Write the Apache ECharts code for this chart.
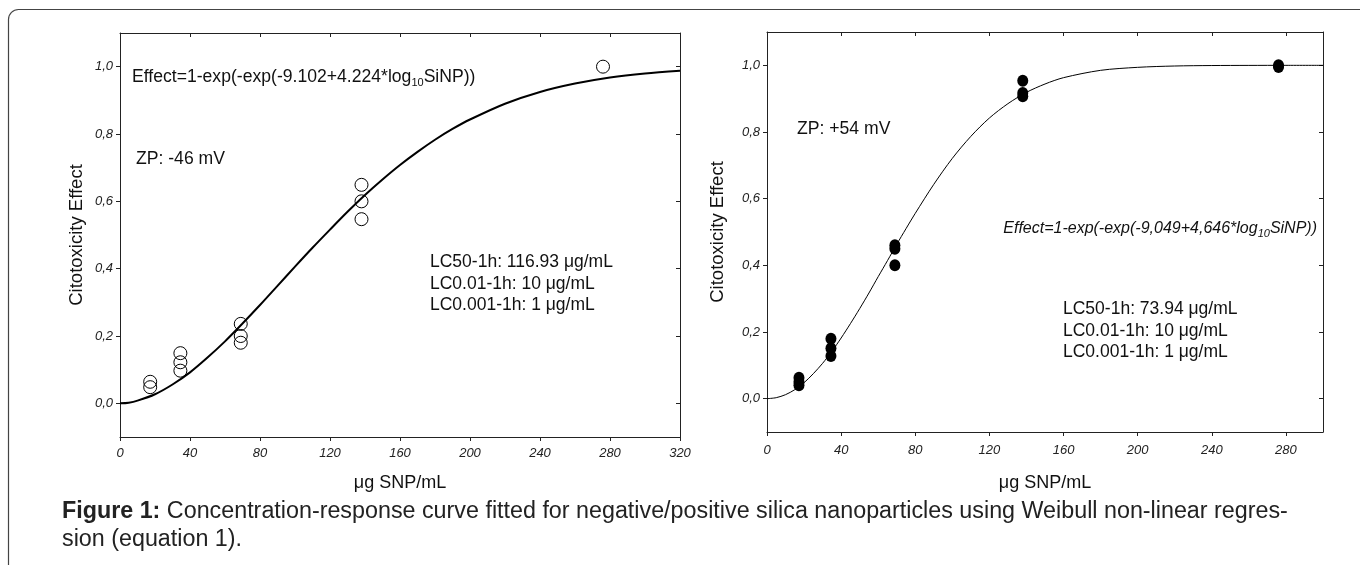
<!DOCTYPE html>
<html><head><meta charset="utf-8">
<script src="https://cdn.jsdelivr.net/npm/echarts@6/dist/echarts.min.js"></script>
<style>html,body{margin:0;padding:0;background:#fff;} #c{width:1360px;height:565px;}</style>
</head><body><div id="c"></div>
<script>
// ---- data ----
const yTicks = [0, 0.2, 0.4, 0.6, 0.8, 1.0];
const xTicksLeft = [0, 40, 80, 120, 160, 200, 240, 280, 320];
const xTicksRight = [0, 40, 80, 120, 160, 200, 240, 280];

// negative silica nanoparticles (left panel, open circles)
const negX = [17.25, 17.25, 34.5, 34.5, 34.5, 69, 69, 69, 138, 138, 138, 276];
const negY = [0.064, 0.048, 0.149, 0.122, 0.097, 0.236, 0.200, 0.180, 0.649, 0.600, 0.547, 1.000];
// fitted curve (left panel)
const negCurveX = [0, 5, 10, 20, 30, 40, 50, 60, 70, 80, 90, 100, 110, 120, 130, 140, 150, 160, 170, 180, 190, 200, 220, 240, 260, 280, 300, 320];
const negCurveY = [0, 0.002, 0.008, 0.027, 0.056, 0.092, 0.136, 0.184, 0.237, 0.292, 0.349, 0.406, 0.462, 0.516, 0.569, 0.619, 0.665, 0.708, 0.747, 0.783, 0.815, 0.843, 0.890, 0.925, 0.950, 0.968, 0.980, 0.988];

// positive silica nanoparticles (right panel, filled circles)
const posX = [17.25, 17.25, 17.25, 34.5, 34.5, 34.5, 69, 69, 69, 138, 138, 138, 276, 276];
const posY = [0.063, 0.050, 0.040, 0.180, 0.151, 0.128, 0.460, 0.450, 0.400, 0.954, 0.917, 0.907, 1.000, 0.995];
// fitted curve (right panel)
const posCurveX = [0, 5, 10, 15, 20, 25, 30, 35, 40, 45, 50, 55, 60, 65, 70, 75, 80, 90, 100, 110, 120, 130, 140, 150, 160, 180, 200, 220, 240, 260, 280, 300];
const posCurveY = [0, 0.003, 0.012, 0.027, 0.048, 0.075, 0.106, 0.142, 0.182, 0.225, 0.270, 0.317, 0.366, 0.414, 0.463, 0.510, 0.556, 0.643, 0.721, 0.787, 0.842, 0.885, 0.919, 0.944, 0.963, 0.985, 0.994, 0.998, 0.9994, 0.9998, 1.0, 1.0];

const pairs = (xs, ys) => xs.map((x, i) => [x, ys[i]]);

const FONT = '"Liberation Sans", Arial, sans-serif';
const AX = '#222';
const TXT = '#111';
const fmtY = v => v.toFixed(1).replace('.', ',');

function bottomX(grid, max, ticks, gap, margin) {
  return {
    type: 'value', gridIndex: grid, position: 'bottom', min: 0, max: max,
    name: 'μg SNP/mL', nameLocation: 'middle', nameGap: gap,
    nameTextStyle: {fontFamily: FONT, fontSize: 18, color: TXT},
    axisLine: {show: true, onZero: false, lineStyle: {color: AX, width: 1}},
    axisTick: {show: true, inside: false, length: 4, customValues: ticks, lineStyle: {color: AX}},
    axisLabel: {show: true, customValues: ticks, margin: margin, fontFamily: FONT, fontSize: 13, fontStyle: 'italic', color: AX},
    splitLine: {show: false}
  };
}
function topX(grid, max, ticks) {
  return {
    type: 'value', gridIndex: grid, position: 'top', min: 0, max: max,
    axisLine: {show: true, onZero: false, lineStyle: {color: AX, width: 1}},
    axisTick: {show: true, inside: true, length: 4, customValues: ticks, lineStyle: {color: AX}},
    axisLabel: {show: false}, splitLine: {show: false}
  };
}
function leftY(grid, gap) {
  return {
    type: 'value', gridIndex: grid, position: 'left', min: -0.1, max: 1.1,
    name: 'Citotoxicity Effect', nameLocation: 'middle', nameGap: gap, nameRotate: 90,
    nameTextStyle: {fontFamily: FONT, fontSize: 18.5, color: TXT},
    axisLine: {show: true, onZero: false, lineStyle: {color: AX, width: 1}},
    axisTick: {show: true, inside: false, length: 4, customValues: yTicks, lineStyle: {color: AX}},
    axisLabel: {show: true, customValues: yTicks, formatter: fmtY, margin: 7, fontFamily: FONT, fontSize: 13, fontStyle: 'italic', color: AX},
    splitLine: {show: false}
  };
}
function rightY(grid) {
  return {
    type: 'value', gridIndex: grid, position: 'right', min: -0.1, max: 1.1,
    axisLine: {show: true, onZero: false, lineStyle: {color: AX, width: 1}},
    axisTick: {show: true, inside: true, length: 4, customValues: yTicks, lineStyle: {color: AX}},
    axisLabel: {show: false}, splitLine: {show: false}
  };
}

const chart = echarts.init(document.getElementById('c'), null, {renderer: 'canvas'});
chart.setOption({
  backgroundColor: '#fff',
  animation: false,
  grid: [
    {left: 120, top: 33, width: 560, height: 404},
    {left: 767, top: 32, width: 556, height: 400}
  ],
  xAxis: [
    bottomX(0, 320, xTicksLeft, 37, 10),
    topX(0, 320, xTicksLeft),
    bottomX(1, 300, xTicksRight, 42, 12),
    topX(1, 300, xTicksRight)
  ],
  yAxis: [
    leftY(0, 34),
    rightY(0),
    leftY(1, 40),
    rightY(1)
  ],
  series: [
    {type: 'line', xAxisIndex: 0, yAxisIndex: 0, data: pairs(negCurveX, negCurveY), smooth: 0.3,
     showSymbol: false, lineStyle: {color: '#000', width: 2}, z: 2},
    {type: 'scatter', xAxisIndex: 0, yAxisIndex: 0, data: pairs(negX, negY), symbol: 'circle', symbolSize: 13,
     itemStyle: {color: 'rgba(255,255,255,0)', borderColor: '#000', borderWidth: 1, opacity: 1}, z: 3},
    {type: 'line', xAxisIndex: 2, yAxisIndex: 2, data: pairs(posCurveX, posCurveY), smooth: 0.3,
     showSymbol: false, lineStyle: {color: '#000', width: 1}, z: 2},
    {type: 'scatter', xAxisIndex: 2, yAxisIndex: 2, data: pairs(posX, posY), symbol: 'circle', symbolSize: [11, 12],
     itemStyle: {color: '#000', opacity: 1}, z: 3}
  ],
  graphic: [
    {type: 'rect', shape: {x: 8.5, y: 9.5, width: 1400, height: 600, r: 10}, style: {fill: 'none', stroke: '#444', lineWidth: 1.2}, silent: true},
    {type: 'text', left: 132, top: 68, style: {
      text: '{n|Effect=1-exp(-exp(-9.102+4.224*log}{s|10}{n|SiNP))}',
      rich: {n: {fontFamily: FONT, fontSize: 17.6, fill: TXT, lineHeight: 20, verticalAlign: 'bottom'},
             s: {fontFamily: FONT, fontSize: 11, fill: TXT, lineHeight: 14, verticalAlign: 'bottom', padding: [0,0,-2,0]}}}},
    {type: 'text', left: 136, top: 150, style: {text: 'ZP: -46 mV', font: '17.6px ' + FONT, fill: TXT}},
    {type: 'text', left: 430, top: 251, style: {text: 'LC50-1h: 116.93 μg/mL\nLC0.01-1h: 10 μg/mL\nLC0.001-1h: 1 μg/mL',
      fontFamily: FONT, fontSize: 17.5, lineHeight: 21.8, fill: TXT}},
    {type: 'text', left: 797, top: 120, style: {text: 'ZP: +54 mV', font: '17.6px ' + FONT, fill: TXT}},
    {type: 'text', right: 43, top: 221, style: {
      text: '{n|Effect=1-exp(-exp(-9,049+4,646*log}{s|10}{n|SiNP))}',
      rich: {n: {fontFamily: FONT, fontSize: 16, fontStyle: 'italic', fill: TXT, lineHeight: 20, verticalAlign: 'bottom'},
             s: {fontFamily: FONT, fontSize: 11, fontStyle: 'italic', fill: TXT, lineHeight: 14, verticalAlign: 'bottom', padding: [0,0,-2,0]}}}},
    {type: 'text', left: 1063, top: 298, style: {text: 'LC50-1h: 73.94 μg/mL\nLC0.01-1h: 10 μg/mL\nLC0.001-1h: 1 μg/mL',
      fontFamily: FONT, fontSize: 17.5, lineHeight: 21.8, fill: TXT}},
    {type: 'text', left: 62, top: 500, style: {
      text: '{b|Figure 1:}{n| Concentration-response curve fitted for negative/positive silica nanoparticles using Weibull non-linear regres-}\n{n|sion (equation 1).}',
      rich: {b: {fontFamily: FONT, fontSize: 23.3, fontWeight: 'bold', fill: '#222', lineHeight: 28},
             n: {fontFamily: FONT, fontSize: 23.3, fill: '#222', lineHeight: 28}}}}
  ]
});
</script></body></html>
